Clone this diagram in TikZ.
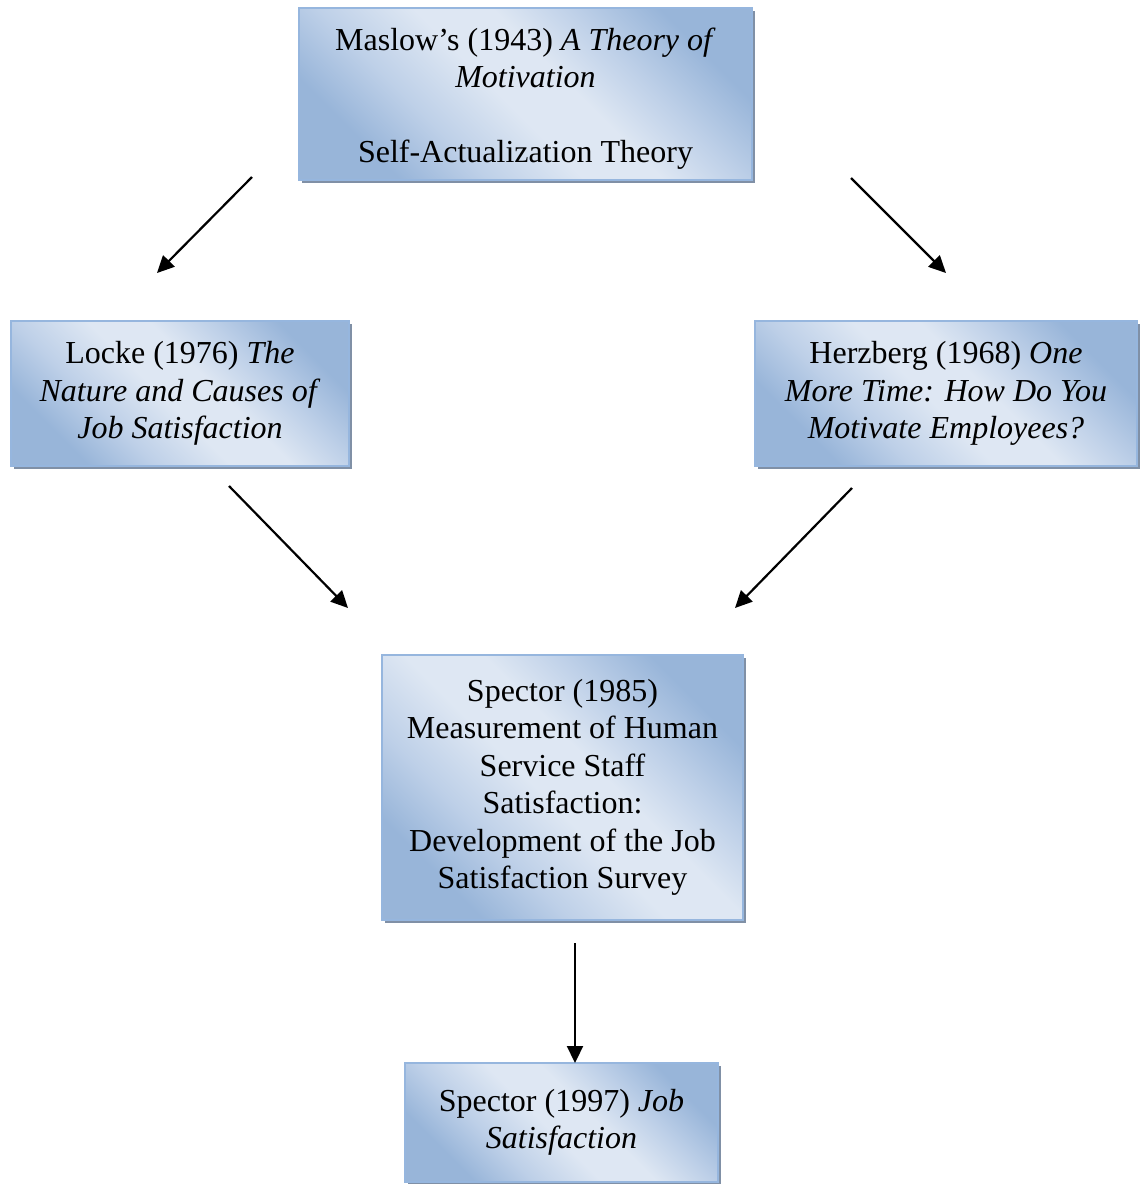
\documentclass[tikz,border=0pt]{standalone}
\usepackage{fontspec}
\setmainfont{Liberation Serif}
\usetikzlibrary{arrows.meta,shadows}
\definecolor{boxblue}{RGB}{152,181,217}
\definecolor{boxmid}{RGB}{190,208,232}
\definecolor{boxlight}{RGB}{222,231,243}
\definecolor{boxedge}{RGB}{150,182,222}
\definecolor{boxshadow}{RGB}{128,144,166}
\pgfdeclareverticalshading{paperfill}{100bp}{color(0bp)=(boxblue); color(26bp)=(boxblue);
  color(36bp)=(boxmid); color(47bp)=(boxlight); color(56bp)=(boxlight);
  color(65bp)=(boxmid); color(75bp)=(boxblue); color(100bp)=(boxblue)}

\begin{document}
\begin{tikzpicture}[x=0.5pt, y=-0.5pt,
    paper/.style={draw=boxedge, line width=0.6pt,
      shading=paperfill, shading angle=-45,
      general shadow={fill=boxshadow, shadow xshift=1.5pt, shadow yshift=-1.5pt},
      align=center, inner sep=0pt, font=\fontsize{16}{18.75}\selectfont},
    link/.style={line width=1.1pt, -{Triangle[length=8.5pt,width=8pt]}}]
    \useasboundingbox (0,0) rectangle (1140,1184);

    \node[paper, minimum width=226.5pt, minimum height=86pt, text height=72pt] (maslow) at (525.5,94)
      {Maslow's (1943) \textit{A Theory of}\\ \textit{Motivation}\\[18.75pt] Self-Actualization Theory};
    \node[paper, minimum width=169pt, minimum height=72.5pt] (locke) at (180,393.5)
      {Locke (1976) \textit{The}\\ \textit{Nature and Causes of}\\ \textit{Job Satisfaction}};
    \node[paper, minimum width=191pt, minimum height=72.5pt] (herzberg) at (946,393.5)
      {Herzberg (1968) \textit{One}\\ \textit{More Time: How Do You}\\ \textit{Motivate Employees?}};
    \node[paper, minimum width=180.5pt, minimum height=132.5pt] (spector85) at (562.5,787.5)
      {Spector (1985)\\ Measurement of Human\\ Service Staff\\ Satisfaction:\\ Development of the Job\\ Satisfaction Survey};
    \node[paper, minimum width=156.5pt, minimum height=59.5pt] (spector97) at (561.5,1122.5)
      {Spector (1997) \textit{Job}\\ \textit{Satisfaction}};

    \coordinate (m1) at (252,177);
    \coordinate (l1) at (157,273);
    \coordinate (m2) at (851,178);
    \coordinate (h1) at (946,273);
    \coordinate (l2) at (229,486);
    \coordinate (s1) at (348,608);
    \coordinate (h2) at (852,488);
    \coordinate (s2) at (735,608);
    \coordinate (s3) at (575,943);
    \coordinate (t1) at (575,1063);

    \foreach \a/\b in {m1/l1, m2/h1, l2/s1, h2/s2, s3/t1} {
      \draw[link] (\a) -- (\b);
    }
\end{tikzpicture}
\end{document}
